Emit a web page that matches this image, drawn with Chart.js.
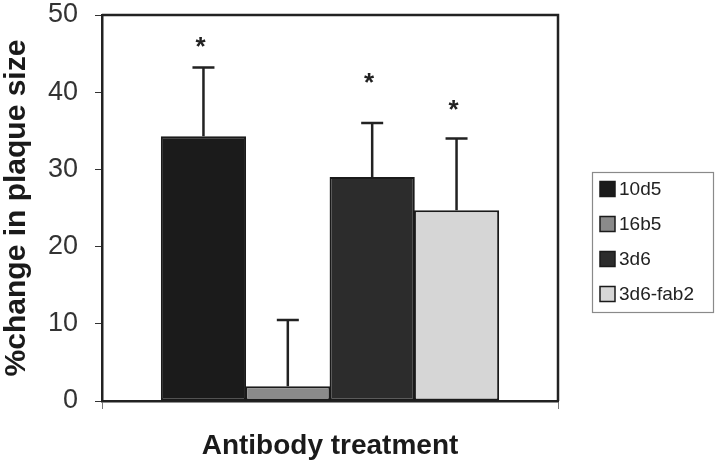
<!DOCTYPE html>
<html lang="en">
<head>
    <meta charset="UTF-8">
    <title>Plaque size change by antibody</title>
    <script src="https://cdn.jsdelivr.net/npm/chart.js"></script>
    <style>
        html, body { margin: 0; padding: 0; background: white; }
        #wrap { width: 720px; height: 468px; }
    </style>
</head>
<body>
<div id="wrap"><canvas id="myChart"></canvas></div>
<script>
    // values
    const groups = ['10d5', '16b5', '3d6', '3d6-fab2'];
    const meanChange = [34.3, 1.9, 29.0, 24.7];
    const errUp = [8.9, 8.6, 7.0, 9.3];          // upper error bar length
    const starAt = [46.8, null, 42.1, 38.6];     // where the * sits (y value)
    const yTicks = [0, 10, 20, 30, 40, 50];
    const barColors = ['#1b1b1b', '#8a8a8a', '#2c2c2c', '#d6d6d6'];

    const FONT = '"Liberation Sans", Arial, sans-serif';

    // error bars, asterisks, frame and the boxed legend
    const extras = {
        id: 'extras',
        afterDatasetsDraw(chart) {
            const ctx = chart.ctx;
            const ys = chart.scales.y;
            const area = chart.chartArea;
            ctx.save();
            ctx.strokeStyle = '#222';
            ctx.lineWidth = 2.5;
            groups.forEach((g, i) => {
                const bar = chart.getDatasetMeta(i).data[0];
                const top = ys.getPixelForValue(meanChange[i] + errUp[i]);
                ctx.beginPath();
                ctx.moveTo(bar.x, bar.y);
                ctx.lineTo(bar.x, top);
                ctx.moveTo(bar.x - 11, top);
                ctx.lineTo(bar.x + 11, top);
                ctx.stroke();
                if (starAt[i] != null) {
                    ctx.fillStyle = '#222';
                    ctx.font = 'bold 26px ' + FONT;
                    ctx.textAlign = 'center';
                    ctx.textBaseline = 'alphabetic';
                    ctx.fillText('*', bar.x - 3, ys.getPixelForValue(starAt[i]) + 15);
                }
            });
            // top and right edges of the plot frame
            ctx.beginPath();
            ctx.moveTo(area.left, area.top);
            ctx.lineTo(area.right, area.top);
            ctx.lineTo(area.right, area.bottom);
            ctx.stroke();

            // legend box
            const lx = 592, ly = 172, lw = 121, lh = 140;
            ctx.strokeStyle = '#8a8a8a';
            ctx.lineWidth = 1.2;
            ctx.strokeRect(lx + 0.5, ly + 0.5, lw, lh);
            ctx.font = '19px ' + FONT;
            ctx.textAlign = 'left';
            ctx.textBaseline = 'middle';
            groups.forEach((g, i) => {
                const cy = ly + 17 + i * 35;
                ctx.fillStyle = barColors[i];
                ctx.fillRect(600, cy - 7.5, 15, 15);
                ctx.strokeStyle = '#1a1a1a';
                ctx.lineWidth = 1.5;
                ctx.strokeRect(600, cy - 7.5, 15, 15);
                ctx.fillStyle = '#222';
                ctx.fillText(g, 619, cy + 1);
            });
            ctx.restore();
        }
    };

    const ctx = document.getElementById('myChart').getContext('2d');
    const myChart = new Chart(ctx, {
        type: 'bar',
        data: {
            labels: [''],
            datasets: groups.map((g, i) => ({
                label: g,
                data: [meanChange[i]],
                backgroundColor: barColors[i],
                borderColor: '#1a1a1a',
                borderWidth: 2,
                borderSkipped: false
            }))
        },
        options: {
            responsive: true,
            maintainAspectRatio: false,
            animation: false,
            devicePixelRatio: 1,
            layout: { padding: { top: 15, right: 162, bottom: 0, left: 0 } },
            datasets: { bar: { categoryPercentage: 0.74, barPercentage: 1.01 } },
            scales: {
                x: {
                    type: 'category',
                    grid: { offset: true, drawOnChartArea: false, drawTicks: true, tickLength: 8, color: '#777' },
                    border: { color: '#222', width: 2.5 },
                    ticks: { display: false },
                    title: {
                        display: true,
                        text: 'Antibody treatment',
                        color: '#1a1a1a',
                        font: { family: FONT, size: 28, weight: 'bold' },
                        padding: { top: 0, bottom: 5 }
                    },
                    afterFit(s) { s.height = 67; s.paddingLeft = 0; s.paddingRight = 0; }
                },
                y: {
                    min: 0,
                    max: 50,
                    afterBuildTicks(s) { s.ticks = yTicks.map(v => ({ value: v })); },
                    grid: { drawOnChartArea: false, drawTicks: true, tickLength: 7, color: '#333' },
                    border: { color: '#222', width: 2.5 },
                    ticks: {
                        color: '#333',
                        padding: 17,
                        font: { family: FONT, size: 27, lineHeight: 1 }
                    },
                    title: {
                        display: true,
                        text: '%change in plaque size',
                        color: '#1a1a1a',
                        font: { family: FONT, size: 30, weight: 'bold', lineHeight: 1.1 },
                        padding: { top: 0, bottom: 0 }
                    },
                    afterFit(s) { s.width = 102; s.paddingTop = 0; s.paddingBottom = 0; }
                }
            },
            plugins: {
                legend: { display: false },
                tooltip: { enabled: false }
            }
        },
        plugins: [extras]
    });
</script>
</body>
</html>
